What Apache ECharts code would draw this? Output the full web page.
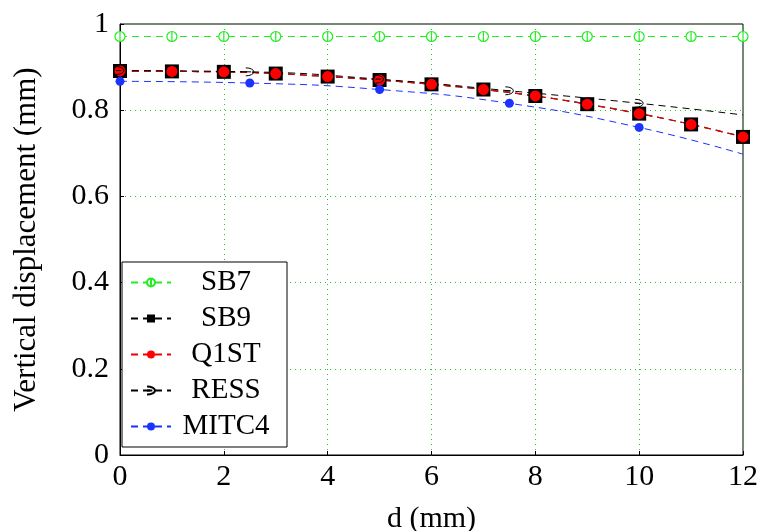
<!DOCTYPE html>
<html>
<head>
<meta charset="utf-8">
<script src="https://cdn.jsdelivr.net/npm/echarts@6/dist/echarts.min.js"></script>
<style>
  html, body { margin: 0; padding: 0; background: #fff; }
  #chart { width: 760px; height: 531px; }
</style>
</head>
<body>
<div id="chart"></div>
<script>
// data
const dFull = [0, 1, 2, 3, 4, 5, 6, 7, 8, 9, 10, 11, 12];
const sb7 = [0.971, 0.971, 0.971, 0.971, 0.971, 0.971, 0.971, 0.971, 0.971, 0.971, 0.971, 0.971, 0.971];
const sb9 = [0.891, 0.890, 0.889, 0.885, 0.878, 0.870, 0.860, 0.848, 0.833, 0.814, 0.792, 0.767, 0.738];
const q1st = [0.891, 0.890, 0.889, 0.885, 0.878, 0.870, 0.860, 0.848, 0.833, 0.814, 0.792, 0.767, 0.738];
const dCoarse = [0, 2.5, 5, 7.5, 10, 12];
const ress = [0.892, 0.889, 0.872, 0.845, 0.816, 0.789];
const mitc4 = [0.867, 0.863, 0.848, 0.816, 0.760, 0.698];
const seriesNames = ['SB7', 'SB9', 'Q1ST', 'RESS', 'MITC4'];

const FONT = 'Liberation Serif';
const pair = (xs, ys) => xs.map((x, i) => [x, ys[i]]);

// last coarse point (x = 12) carries no marker in the reference
const markUnlessLast = size => (v, p) => (p.dataIndex === dCoarse.length - 1 ? 0 : size);

const sb7Symbol = 'path://M10,0 A10,10 0 1 1 9.99,0 Z M10,0 L10,20';
const ressSymbol = 'path://M0,1 A9,9 0 0 1 0,19 M0,10 L6,10';

const gridLine = { show: true, lineStyle: { color: '#33bb33', type: [1, 4], width: 1 } };

const option = {
  animation: false,
  backgroundColor: '#fff',
  textStyle: { fontFamily: FONT },
  grid: {
    left: 120, right: 17, top: 24, bottom: 76,
    outerBoundsMode: 'none',
    containLabel: false,
    show: true, borderColor: '#000', borderWidth: 1
  },
  legend: {
    data: seriesNames,
    orient: 'vertical',
    left: 122, top: 262,
    backgroundColor: '#fff',
    borderColor: '#000', borderWidth: 1,
    padding: [6, 11, 6, 8],
    itemWidth: 40, itemHeight: 10,
    itemGap: 7,
    formatter: name => '{t|' + name + '}',
    textStyle: {
      fontFamily: FONT,
      rich: {
        t: { width: 100, align: 'center', fontSize: 29, lineHeight: 30, fontFamily: FONT, color: '#000' }
      }
    }
  },
  xAxis: {
    type: 'value', min: 0, max: 12, interval: 2,
    name: 'd (mm)', nameLocation: 'middle', nameGap: 49,
    nameTextStyle: { fontSize: 30, color: '#000', fontFamily: FONT },
    axisLine: { lineStyle: { color: '#000' } },
    axisTick: { inside: true, length: 4, lineStyle: { color: '#000' } },
    axisLabel: { fontSize: 30, color: '#000', fontFamily: FONT, margin: 7 },
    splitLine: gridLine
  },
  yAxis: {
    type: 'value', min: 0, max: 1, interval: 0.2,
    name: 'Vertical displacement (mm)', nameLocation: 'middle', nameGap: 78,
    nameTextStyle: { fontSize: 31, color: '#000', fontFamily: FONT },
    axisLine: { lineStyle: { color: '#000' } },
    axisTick: { inside: true, length: 4, lineStyle: { color: '#000' } },
    axisLabel: { fontSize: 30, color: '#000', fontFamily: FONT, margin: 11 },
    splitLine: gridLine
  },
  series: [
    {
      name: 'SB7', type: 'line', data: pair(dFull, sb7),
      symbol: sb7Symbol, symbolSize: 10,
      lineStyle: { color: '#22ee22', type: [7, 5], width: 1.2 },
      itemStyle: { color: '#fff', borderColor: '#22ee22', borderWidth: 1.2 }
    },
    {
      name: 'SB9', type: 'line', data: pair(dFull, sb9), smooth: true,
      symbol: 'rect', symbolSize: 14,
      lineStyle: { color: '#000', type: [7, 5], width: 1.2 },
      itemStyle: { color: '#000' }
    },
    {
      name: 'Q1ST', type: 'line', data: pair(dFull, q1st), smooth: true,
      symbol: 'circle', symbolSize: 11,
      lineStyle: { color: '#ee0000', type: [7, 5], width: 1.2 },
      itemStyle: { color: '#ff0000' }
    },
    {
      name: 'RESS', type: 'line', data: pair(dCoarse, ress), smooth: true,
      symbol: ressSymbol, symbolSize: markUnlessLast(8),
      lineStyle: { color: '#000', type: [7, 5], width: 1 },
      itemStyle: { color: 'rgba(0,0,0,0)', borderColor: '#000', borderWidth: 1 }
    },
    {
      name: 'MITC4', type: 'line', data: pair(dCoarse, mitc4), smooth: true,
      symbol: 'circle', symbolSize: markUnlessLast(9),
      lineStyle: { color: '#1a33ff', type: [7, 5], width: 1 },
      itemStyle: { color: '#1a33ff' }
    }
  ]
};

const chart = echarts.init(document.getElementById('chart'), null, { renderer: 'canvas' });
chart.setOption(option);
</script>
</body>
</html>
